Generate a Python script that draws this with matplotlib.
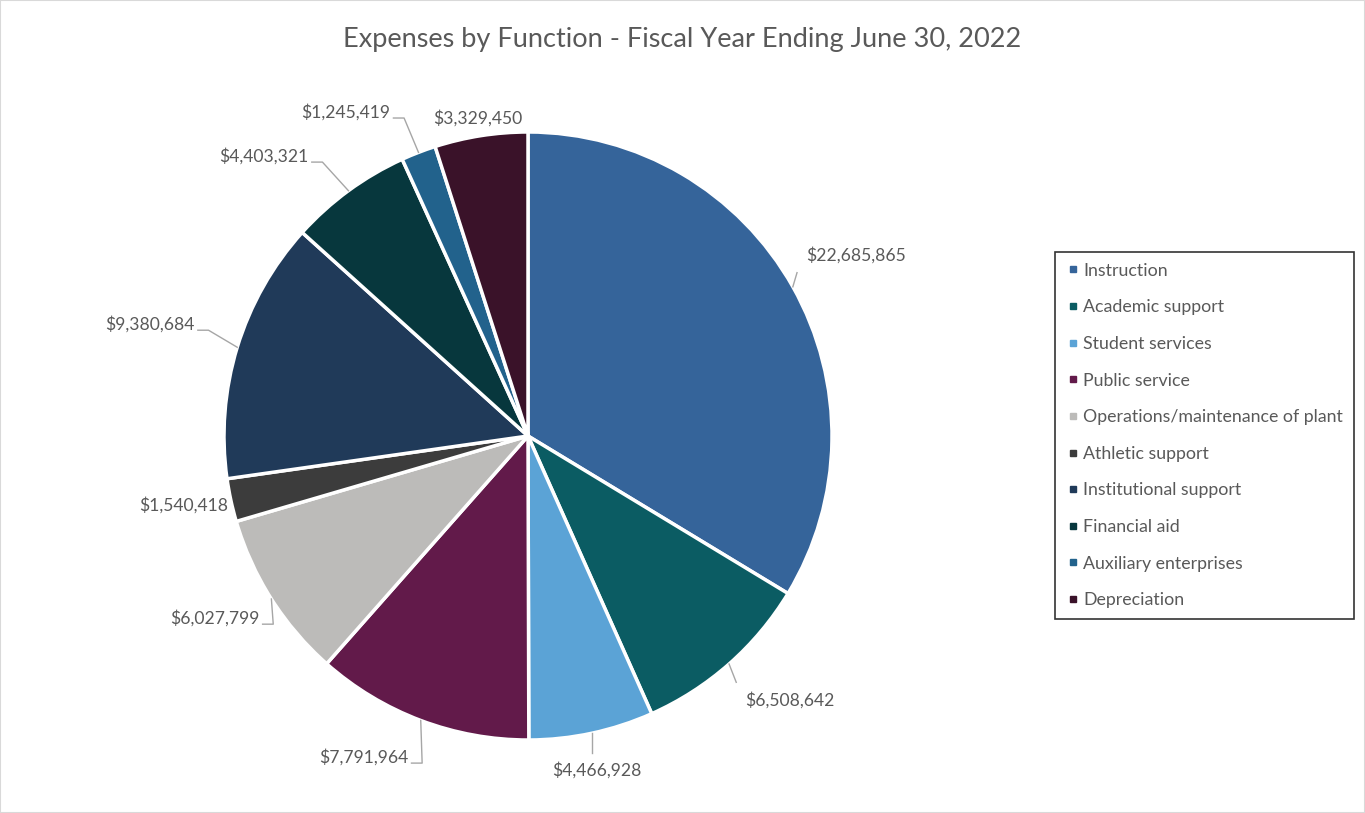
import numpy as np
import matplotlib
matplotlib.use("Agg")
from matplotlib import pyplot as plt
from matplotlib.lines import Line2D
from matplotlib.patches import Rectangle

categories = ["Instruction", "Academic support", "Student services", "Public service",
              "Operations/maintenance of plant", "Athletic support", "Institutional support",
              "Financial aid", "Auxiliary enterprises", "Depreciation"]
expenses = [22685865, 6508642, 4466928, 7791964, 6027799, 1540418, 9380684, 4403321, 1245419, 3329450]
colors = ["#35649A", "#0B5C63", "#5BA3D6", "#621A4A", "#BCBBB9",
          "#3C3C3C", "#203A59", "#07373D", "#22628C", "#3A1229"]

# label centres relative to the pie centre, in units of the radius (moved by hand as in the original)
label_offsets = [(1.079, 0.595), (0.862, -0.868), (0.227, -1.099), (-0.540, -1.056),
                 (-1.030, -0.599), (-1.132, -0.227), (-1.243, 0.368), (-0.868, 0.921),
                 (-0.599, 1.066), (-0.164, 1.046)]
# labels sitting right against their slice get no leader line
has_leader = [True, True, True, True, True, False, True, True, True, False]

plt.rcParams["font.family"] = ["Lato", "DejaVu Sans"]
text_color = "#595959"
leader_color = "#A6A6A6"

fig = plt.figure(figsize=(13.65, 8.13), dpi=100)
W, H = 1365, 813
cx, cy, r = 528, 436, 304
ax = fig.add_axes([(cx - r) / W, (H - cy - r) / H, 2 * r / W, 2 * r / H])

wedges, _ = ax.pie(expenses, colors=colors, startangle=90, counterclock=False,
                   wedgeprops=dict(edgecolor="white", linewidth=2.5), radius=1.0)
ax.set_xlim(-1, 1)
ax.set_ylim(-1, 1)
ax.set_aspect("equal")
ax.axis("off")

texts = []
for val, (lx, ly) in zip(expenses, label_offsets):
    t = ax.text(lx, ly, f"${val:,}", ha="center", va="center", fontsize=12.6,
                color=text_color, clip_on=False)
    texts.append(t)

fig.canvas.draw()
renderer = fig.canvas.get_renderer()
inv = ax.transData.inverted()

# leader lines from the slice edge to each label
for w, t, (lx, ly), show in zip(wedges, texts, label_offsets, has_leader):
    if not show:
        continue
    ang = np.deg2rad((w.theta1 + w.theta2) / 2)
    ex, ey = np.cos(ang), np.sin(ang)
    bb = t.get_window_extent(renderer)
    (x0, y0), (x1, y1) = inv.transform([[bb.x0, bb.y0], [bb.x1, bb.y1]])
    if lx < 0:
        sy = ly - 0.02
        ax.plot([ex, x1 + 0.045, x1 + 0.01], [ey, sy, sy], color=leader_color, lw=1, clip_on=False)
    else:
        px = min(max(ex, x0 - 0.03), x1 + 0.03)
        py = min(max(ey, y0 - 0.03), y1 + 0.03)
        ax.plot([ex, px], [ey, py], color=leader_color, lw=1, clip_on=False)

fig.suptitle("Expenses by Function - Fiscal Year Ending June 30, 2022",
             y=1 - 40 / H, va="center", fontsize=19.5, color=text_color)

handles = [Line2D([], [], marker="s", linestyle="none", markersize=5,
                  markerfacecolor=c, markeredgecolor=c) for c in colors]
leg = fig.legend(handles, categories, loc="upper left",
                 bbox_to_anchor=(1055 / W, 1 - 252 / H), frameon=True,
                 fontsize=12.8, labelspacing=1.16, handletextpad=0.2,
                 handlelength=0.8, borderpad=0.6, borderaxespad=0, fancybox=False,
                 labelcolor=text_color)
leg.get_frame().set_edgecolor("black")
leg.get_frame().set_linewidth(1.2)

fig.patches.append(Rectangle((0, 0), 1, 1, transform=fig.transFigure, fill=False,
                             edgecolor="#D9D9D9", linewidth=1.5))

plt.savefig("out.png", dpi=100)
